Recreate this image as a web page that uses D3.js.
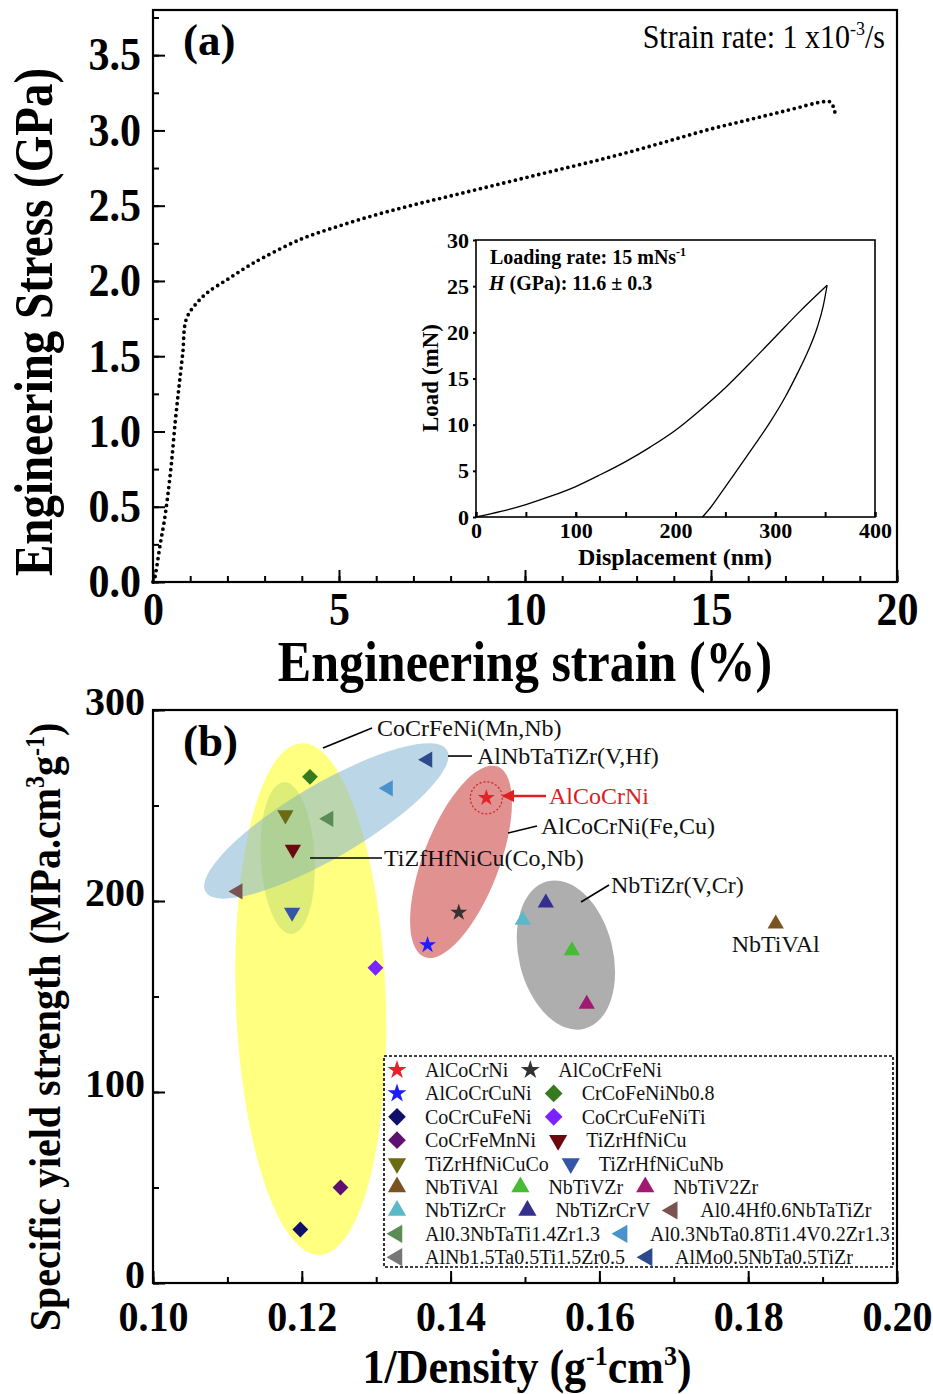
<!DOCTYPE html>
<html lang="en">
<head>
<meta charset="utf-8">
<title>stress strain and specific yield strength</title>
<script src="https://cdn.jsdelivr.net/npm/d3@7"></script>
<style>
  body { margin: 0; background: #fff; }
  text { font-family: "Liberation Serif", "Times New Roman", serif; }
</style>
</head>
<body>
<svg id="fig" width="933" height="1394"></svg>
<script>
// ---- panel (a): compression curve
var strain = [0, 0.05, 0.1, 0.2, 0.3, 0.4, 0.5, 0.6, 0.7, 0.8, 0.9, 1.2, 1.5, 2.0, 2.5, 3.0, 4.0, 5.0, 6.0, 7.0, 8.0, 9.0, 10, 11, 12, 13, 14, 15, 16, 17, 18, 18.2, 18.3, 18.35];
var stress = [0, 0.03, 0.1, 0.26, 0.4, 0.58, 0.8, 1.07, 1.3, 1.52, 1.75, 1.86, 1.93, 2.01, 2.09, 2.16, 2.28, 2.365, 2.44, 2.505, 2.565, 2.625, 2.685, 2.745, 2.805, 2.87, 2.94, 3.01, 3.07, 3.13, 3.19, 3.19, 3.15, 3.09];
var strainTicks = [0, 5, 10, 15, 20];
var stressTicks = [0, 0.5, 1.0, 1.5, 2.0, 2.5, 3.0, 3.5];

// inset: nanoindentation load / unload
var loadDisp = [0, 25, 50, 75, 100, 125, 150, 175, 200, 225, 250, 275, 300, 325, 352];
var loadVal  = [0, 0.6, 1.35, 2.25, 3.3, 4.6, 6.0, 7.6, 9.4, 11.6, 14.0, 16.7, 19.5, 22.3, 25.1];
var unloadDisp = [227, 235, 245, 260, 278, 295, 310, 322, 333, 342, 348, 352];
var unloadVal  = [0, 1.0, 2.5, 4.8, 7.6, 10.3, 13.0, 15.5, 18.0, 20.5, 22.8, 25.1];
var dispTicks = [0, 100, 200, 300, 400];
var loadTicks = [0, 5, 10, 15, 20, 25, 30];

// ---- panel (b): specific yield strength vs 1/density
var alloys = ["AlCoCrNi", "AlCoCrFeNi", "AlCoCrCuNi", "CrCoFeNiNb0.8", "CoCrCuFeNi", "CoCrCuFeNiTi",
  "CoCrFeMnNi", "TiZrHfNiCu", "TiZrHfNiCuCo", "TiZrHfNiCuNb", "NbTiVAl", "NbTiVZr", "NbTiV2Zr",
  "NbTiZrCr", "NbTiZrCrV", "Al0.4Hf0.6NbTaTiZr", "Al0.3NbTaTi1.4Zr1.3", "Al0.3NbTa0.8Ti1.4V0.2Zr1.3",
  "AlNb1.5Ta0.5Ti1.5Zr0.5", "AlMo0.5NbTa0.5TiZr"];
var invDensity = [0.1448, 0.1411, 0.1369, 0.1211, 0.1198, 0.1299, 0.1252, 0.1188, 0.1178, 0.1187,
  0.1837, 0.1563, 0.1583, 0.1497, 0.1528, 0.1114, 0.1236, 0.1316, null, 0.1369];
var specYield = [254, 194, 177, 265, 28, 165, 50, 227, 245, 194, 188, 174, 146, 190, 199, 205, 243, 259, null, 274];
var alloyShape = ["star", "star", "star", "diamond", "diamond", "diamond", "diamond", "down", "down", "down",
  "up", "up", "up", "up", "up", "left", "left", "left", "left", "left"];
var alloyColor = ["#e8202a", "#333333", "#1c1cff", "#357a1e", "#10106b", "#7a22ff", "#5e0f70", "#6a0a0e",
  "#6b6b14", "#3556a8", "#7a5420", "#46bb34", "#a01a72", "#5ab8c8", "#352f8e", "#7a5252", "#5b8c55",
  "#4a92cc", "#777777", "#2d4b8c"];
var legendRows = [[0, 1], [2, 3], [4, 5], [6, 7], [8, 9], [10, 11, 12], [13, 14, 15], [16, 17], [18, 19]];
var invDensityTicks = [0.10, 0.12, 0.14, 0.16, 0.18, 0.20];
var yieldTicks = [0, 100, 200, 300];

// family groups (centre in data units)
var groupX = [0.1212, 0.1233, 0.1181, 0.1414, 0.1555];
var groupY = [148.7, 241.9, 222.5, 220.5, 171.7];
var groupFill = ["#ffff80", "rgba(135,183,211,0.57)", "rgba(150,200,100,0.32)", "rgba(207,72,72,0.6)", "rgba(120,120,120,0.6)"];
var groupRx = [75, 140, 27, 38, 47];
var groupRy = [256, 37, 76, 102, 76];
var groupRot = [-2, -30.4, -3, 21, -14];

// text notes in panel (b): leader start/end and text anchor, data units
var notes = [
  {t: "CoCrFeNi(Mn,Nb)", x1: 0.12285, y1: 280.1, x2: 0.12944, y2: 290.6, tx: 0.1301, ty: 290.6},
  {t: "AlNbTaTiZr(V,Hf)", x1: 0.13965, y1: 275.9, x2: 0.14288, y2: 275.9, tx: 0.14355, ty: 275.9},
  {t: "AlCoCrNi(Fe,Cu)", x1: 0.14772, y1: 235.6, x2: 0.15161, y2: 239.3, tx: 0.15215, ty: 239.3},
  {t: "TiZfHfNiCu(Co,Nb)", x1: 0.1211, y1: 222.5, x2: 0.13078, y2: 222.5, tx: 0.13105, ty: 222.5},
  {t: "NbTiZr(V,Cr)", x1: 0.15753, y1: 199.5, x2: 0.16129, y2: 208.4, tx: 0.16156, ty: 208.4}
];

var svg = d3.select("#fig");
var serif = "'Liberation Serif', 'Times New Roman', serif";

function styleAxis(g, size) {
  g.attr("font-family", serif).attr("font-size", size).attr("font-weight", "bold");
  g.select(".domain").remove();
  g.selectAll(".tick line").attr("stroke", "#000").attr("stroke-width", 2);
  g.selectAll(".tick text").attr("fill", "#000");
}
function drawFrame(x, y, w) {
  svg.append("rect")
    .attr("x", x.range()[0]).attr("y", y.range()[1])
    .attr("width", x.range()[1] - x.range()[0])
    .attr("height", y.range()[0] - y.range()[1])
    .attr("fill", "none").attr("stroke", "#000").attr("stroke-width", w);
}
function minorAxis(axis, sel, vals, len) {
  sel.call(axis.tickValues(vals).tickSize(len).tickSizeOuter(0).tickFormat(""));
  sel.select(".domain").remove();
  sel.selectAll(".tick line").attr("stroke", "#000").attr("stroke-width", 2);
}
// the original lettering is a bit taller than the font: stretch it vertically
function title(x, y, rot, size, k) {
  return svg.append("text")
    .attr("transform", "translate(" + x + "," + y + ")" + (rot ? " rotate(" + rot + ")" : "") + " scale(1," + k + ")")
    .attr("text-anchor", "middle").attr("font-size", size).attr("font-weight", "bold");
}

// ================= panel (a)
var xa = d3.scaleLinear().domain([0, 20]).range([153, 897]);
var ya = d3.scaleLinear().domain([0, 3.8]).range([582, 10]);

minorAxis(d3.axisBottom(xa), svg.append("g").attr("transform", "translate(0,582)"), d3.range(0, 21, 1), -6);
minorAxis(d3.axisLeft(ya), svg.append("g").attr("transform", "translate(153,0)"), d3.range(0, 3.8, 0.25), -6);
svg.append("g").attr("transform", "translate(0,582)")
  .call(d3.axisBottom(xa).tickValues(strainTicks).tickSize(-12).tickSizeOuter(0).tickPadding(9).tickFormat(d3.format("d")))
  .call(styleAxis, 42)
  .call(g => g.selectAll(".tick text").attr("transform", "scale(1,1.1)"));
svg.append("g").attr("transform", "translate(153,0)")
  .call(d3.axisLeft(ya).tickValues(stressTicks).tickSize(-12).tickSizeOuter(0).tickPadding(12).tickFormat(d3.format(".1f")))
  .call(styleAxis, 42)
  .call(g => g.selectAll(".tick text").attr("transform", "scale(1,1.1)"));
drawFrame(xa, ya, 2.2);

svg.append("path")
  .datum(d3.zip(strain, stress))
  .attr("d", d3.line().x(d => xa(d[0])).y(d => ya(d[1])).curve(d3.curveCatmullRom.alpha(0.5)))
  .attr("fill", "none").attr("stroke", "#000")
  .attr("stroke-width", 3.8).attr("stroke-linecap", "round")
  .attr("stroke-dasharray", "0 6");

svg.append("text").attr("x", 183).attr("y", 55)
  .attr("font-size", 45).attr("font-weight", "bold").text("(a)");
var sr = svg.append("text").attr("transform", "translate(885,48) scale(1,1.1)").attr("text-anchor", "end").attr("font-size", 30);
sr.append("tspan").text("Strain rate: 1 x10");
sr.append("tspan").attr("font-size", 18).attr("dy", -12).text("-3");
sr.append("tspan").attr("dy", 12).text("/s");

title(525, 681, 0, 50, 1.12).text("Engineering strain (%)");
title(52, 322, -90, 47, 1.15).text("Engineering Stress (GPa)");

// ---- inset
var xi = d3.scaleLinear().domain([0, 400]).range([476, 875]);
var yi = d3.scaleLinear().domain([0, 30]).range([517, 240]);
svg.append("rect").attr("x", 476).attr("y", 240).attr("width", 399).attr("height", 277).attr("fill", "#fff");
minorAxis(d3.axisBottom(xi), svg.append("g").attr("transform", "translate(0,517)"), d3.range(0, 401, 50), -5);
svg.append("g").attr("transform", "translate(0,517)")
  .call(d3.axisBottom(xi).tickValues(dispTicks).tickSize(-5).tickSizeOuter(0).tickPadding(5))
  .call(styleAxis, 22);
svg.append("g").attr("transform", "translate(476,0)")
  .call(d3.axisLeft(yi).tickValues(loadTicks).tickSize(3).tickSizeOuter(0).tickPadding(4))
  .call(styleAxis, 22);
drawFrame(xi, yi, 1.6);
var il = d3.line().x(d => xi(d[0])).y(d => yi(d[1])).curve(d3.curveMonotoneX);
svg.append("path").datum(d3.zip(loadDisp, loadVal)).attr("d", il)
  .attr("fill", "none").attr("stroke", "#000").attr("stroke-width", 1.3);
svg.append("path").datum(d3.zip(unloadDisp, unloadVal)).attr("d", il)
  .attr("fill", "none").attr("stroke", "#000").attr("stroke-width", 1.3);
var lr = svg.append("text").attr("x", 490).attr("y", 264).attr("font-size", 20).attr("font-weight", "bold");
lr.append("tspan").text("Loading rate: 15 mNs");
lr.append("tspan").attr("font-size", 12).attr("dy", -8).text("-1");
var hh = svg.append("text").attr("x", 489).attr("y", 290).attr("font-size", 20).attr("font-weight", "bold");
hh.append("tspan").attr("font-style", "italic").text("H");
hh.append("tspan").text(" (GPa): 11.6 \u00b1 0.3");
svg.append("text").attr("x", 675).attr("y", 565).attr("text-anchor", "middle")
  .attr("font-size", 24).attr("font-weight", "bold").text("Displacement (nm)");
svg.append("text").attr("transform", "translate(438,378) rotate(-90)").attr("text-anchor", "middle")
  .attr("font-size", 23).attr("font-weight", "bold").text("Load (mN)");

// ================= panel (b)
var xb = d3.scaleLinear().domain([0.10, 0.20]).range([153, 897]);
var yb = d3.scaleLinear().domain([0, 300]).range([1283, 710]);

minorAxis(d3.axisBottom(xb), svg.append("g").attr("transform", "translate(0,1283)"), d3.range(0.10, 0.2001, 0.01), -6);
minorAxis(d3.axisLeft(yb), svg.append("g").attr("transform", "translate(153,0)"), d3.range(0, 301, 50), -6);
svg.append("g").attr("transform", "translate(0,1283)")
  .call(d3.axisBottom(xb).tickValues(invDensityTicks).tickSize(-12).tickSizeOuter(0).tickPadding(17).tickFormat(d3.format(".2f")))
  .call(styleAxis, 40)
  .call(g => g.selectAll(".tick text").attr("transform", "scale(1,1.06)"));
svg.append("g").attr("transform", "translate(153,0)")
  .call(d3.axisLeft(yb).tickValues(yieldTicks).tickSize(-12).tickSizeOuter(0).tickPadding(8).tickFormat(d3.format("d")))
  .call(styleAxis, 40)
  .call(g => g.selectAll(".tick text").attr("dy", "0.1em"));

// group ellipses
svg.append("g").selectAll("ellipse").data(d3.range(groupX.length)).join("ellipse")
  .attr("transform", i => "translate(" + xb(groupX[i]) + "," + yb(groupY[i]) + ") rotate(" + groupRot[i] + ")")
  .attr("rx", i => groupRx[i]).attr("ry", i => groupRy[i])
  .attr("fill", i => groupFill[i]);

function symbolPath(shape, s) {
  if (shape == "star") return d3.symbol(d3.symbolStar, 90 * s)();
  if (shape == "diamond") return d3.symbol(d3.symbolSquare, 125 * s)();
  return d3.symbol(d3.symbolTriangle, 115 * s)();
}
function symbolRot(shape) {
  if (shape == "diamond") return 45;
  if (shape == "down") return 180;
  if (shape == "left") return -90;
  return 0;
}

var pts = d3.range(alloys.length).filter(i => invDensity[i] != null);
svg.append("g").selectAll("path").data(pts).join("path")
  .attr("d", i => symbolPath(alloyShape[i], 1))
  .attr("transform", i => "translate(" + xb(invDensity[i]) + "," + yb(specYield[i]) + ") rotate(" + symbolRot(alloyShape[i]) + ")")
  .attr("fill", i => alloyColor[i]);

// highlight ring + arrow for AlCoCrNi
svg.append("circle").attr("cx", xb(invDensity[0])).attr("cy", yb(specYield[0])).attr("r", 16)
  .attr("fill", "none").attr("stroke", "#d42020").attr("stroke-width", 1.2).attr("stroke-dasharray", "2 2");
svg.append("defs").append("marker").attr("id", "arr").attr("viewBox", "0 0 10 10")
  .attr("refX", 9).attr("refY", 5).attr("markerWidth", 5).attr("markerHeight", 5).attr("orient", "auto")
  .append("path").attr("d", "M0,0L10,5L0,10z").attr("fill", "#e02020");
svg.append("line").attr("x1", xb(0.15282)).attr("y1", yb(255)).attr("x2", xb(0.14704)).attr("y2", yb(255))
  .attr("stroke", "#e02020").attr("stroke-width", 2.5).attr("marker-end", "url(#arr)");
svg.append("text").attr("x", xb(0.15323)).attr("y", yb(255)).attr("dy", "0.35em")
  .attr("font-size", 24).attr("fill", "#d81e1e").text("AlCoCrNi");

var ng = svg.append("g");
ng.selectAll("line").data(notes).join("line")
  .attr("x1", d => xb(d.x1)).attr("y1", d => yb(d.y1)).attr("x2", d => xb(d.x2)).attr("y2", d => yb(d.y2))
  .attr("stroke", "#000").attr("stroke-width", 1.6);
ng.selectAll("text").data(notes).join("text")
  .attr("x", d => xb(d.tx)).attr("y", d => yb(d.ty)).attr("dy", "0.35em")
  .attr("font-size", 24).attr("fill", "#111").text(d => d.t);
svg.append("text").attr("x", xb(invDensity[10])).attr("y", yb(177.5)).attr("dy", "0.35em")
  .attr("text-anchor", "middle").attr("font-size", 24).attr("fill", "#111").text("NbTiVAl");

// legend
var lg = svg.append("g");
lg.append("rect").attr("x", 384).attr("y", 1056).attr("width", 509).attr("height", 211)
  .attr("fill", "#fff").attr("stroke", "#000").attr("stroke-width", 1.6).attr("stroke-dasharray", "3 2");
legendRows.forEach(function(row, r) {
  var cy = 1070 + r * 23.4;
  var cx = 397;
  row.forEach(function(i) {
    lg.append("path").attr("d", symbolPath(alloyShape[i], 1.25))
      .attr("transform", "translate(" + cx + "," + cy + ") rotate(" + symbolRot(alloyShape[i]) + ")")
      .attr("fill", alloyColor[i]);
    var t = lg.append("text").attr("x", cx + 28).attr("y", cy).attr("dy", "0.35em")
      .attr("font-size", 20).attr("fill", "#111").text(alloys[i]);
    cx = cx + 28 + t.node().getComputedTextLength() + 22;
  });
});

drawFrame(xb, yb, 2.2);
svg.append("text").attr("x", 183).attr("y", 756)
  .attr("font-size", 45).attr("font-weight", "bold").text("(b)");

var xt = title(527, 1383, 0, 44, 1.08);
xt.append("tspan").text("1/Density (g");
xt.append("tspan").attr("font-size", 26).attr("dy", -17).text("-1");
xt.append("tspan").attr("dy", 17).text("cm");
xt.append("tspan").attr("font-size", 26).attr("dy", -17).text("3");
xt.append("tspan").attr("dy", 17).text(")");

var yt = title(60, 1027, -90, 40, 1.1);
yt.append("tspan").text("Specific yield strength (MPa.cm");
yt.append("tspan").attr("font-size", 24).attr("dy", -15).text("3");
yt.append("tspan").attr("dy", 15).text("g");
yt.append("tspan").attr("font-size", 24).attr("dy", -15).text("-1");
yt.append("tspan").attr("dy", 15).text(")");
</script>
</body>
</html>
